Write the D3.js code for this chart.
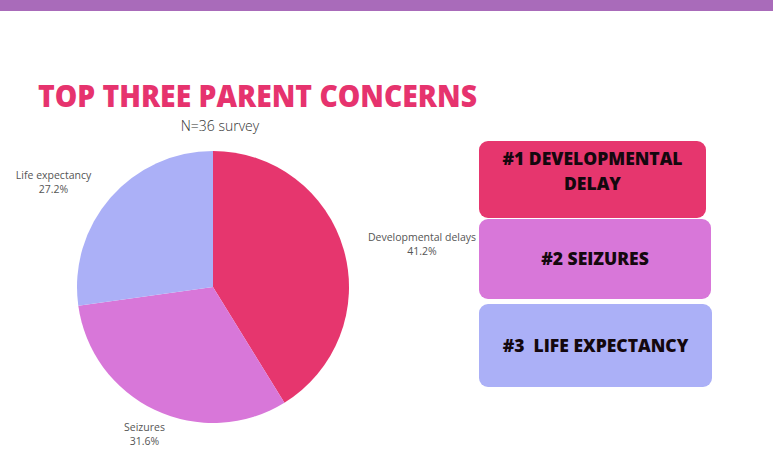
<!DOCTYPE html>
<html>
<head>
<meta charset="utf-8">
<script src="https://cdn.jsdelivr.net/npm/d3@7"></script>
<style>
  body { margin: 0; background: #fff; }
  svg { display: block; font-family: "Open Sans", "Noto Sans", sans-serif; }
</style>
</head>
<body>
<div id="d3-container"></div>
<script>
/**
 * DATA
 * */
const categories = ["Developmental delays", "Seizures", "Life expectancy"];
const shares = [41.2, 31.6, 27.2];
const sliceColors = ["#e6366e", "#d877d9", "#abb0f7"];

const rankLabels = [["#1 DEVELOPMENTAL", "DELAY"], ["#2 SEIZURES"], ["#3\u00a0\u00a0LIFE EXPECTANCY"]];

/**
 * CONSTANTS
 * */
const width = 773,
  height = 471,
  center = { x: 213, y: 287 },
  radius = 136;

const svg = d3
  .select("#d3-container")
  .append("svg")
  .attr("width", width)
  .attr("height", height);

// top band
svg.append("rect")
  .attr("x", 0).attr("y", 0)
  .attr("width", width).attr("height", 11)
  .attr("fill", "#a96bba");

// title + subtitle
svg.append("text")
  .attr("x", 38).attr("y", 107)
  .attr("fill", "#e6336e")
  .attr("font-size", 30)
  .attr("font-weight", 800)
  .attr("textLength", 439)
  .attr("lengthAdjust", "spacingAndGlyphs")
  .text("TOP THREE PARENT CONCERNS");

svg.append("text")
  .attr("x", 220).attr("y", 131)
  .attr("text-anchor", "middle")
  .attr("fill", "#333")
  .attr("font-size", 14)
  .attr("font-weight", 300)
  .text("N=36 survey");

/**
 * PIE
 * */
const pie = d3.pie().sort(null).value(d => d.value);
const arc = d3.arc().innerRadius(0).outerRadius(radius);
const labelArc = d3.arc().innerRadius(radius + 25).outerRadius(radius + 25);

const slices = pie(categories.map((c, i) => ({ name: c, value: shares[i], color: sliceColors[i] })));

const g = svg.append("g").attr("transform", `translate(${center.x},${center.y})`);

g.selectAll("path.slice")
  .data(slices)
  .join("path")
  .attr("class", "slice")
  .attr("d", arc)
  .attr("fill", d => d.data.color);

// labels: block sits outside the slice, lines centred on each other
const labels = g.selectAll("text.label")
  .data(slices)
  .join("text")
  .attr("class", "label")
  .attr("font-size", 10.5)
  .attr("fill", "#555")
  .attr("text-anchor", "middle");

labels.append("tspan")
  .attr("class", "l1")
  .attr("x", 0).attr("y", -2)
  .text(d => d.data.name);

labels.append("tspan")
  .attr("class", "l2")
  .attr("x", 0).attr("y", 12)
  .text(d => d.data.value.toFixed(1) + "%");

labels.attr("transform", function(d) {
  const [px, py] = labelArc.centroid(d);
  const s = Math.sin((d.startAngle + d.endAngle) / 2);
  const w = this.getBBox().width;
  const dx = s > 0.5 ? w / 2 : s < -0.5 ? -w / 2 : 0;
  return `translate(${px + dx},${py})`;
});

/**
 * RANK BOXES
 * */
const boxes = [
  { x0: 479, x1: 706, y0: 141, y1: 218 },
  { x0: 479, x1: 711, y0: 219, y1: 299 },
  { x0: 479, x1: 712, y0: 304, y1: 387 }
];

const box = svg.selectAll("g.box")
  .data(boxes.map((b, i) => ({ ...b, lines: rankLabels[i], color: sliceColors[i] })))
  .join("g")
  .attr("class", "box");

box.append("rect")
  .attr("x", d => d.x0).attr("y", d => d.y0)
  .attr("width", d => d.x1 - d.x0).attr("height", d => d.y1 - d.y0)
  .attr("rx", 9)
  .attr("fill", d => d.color);

box.append("text")
  .attr("text-anchor", "middle")
  .attr("font-size", 17.5)
  .attr("font-weight", 800)
  .attr("fill", "#14080e")
  .each(function(d) {
    const cx = (d.x0 + d.x1) / 2;
    const cy = (d.y0 + d.y1) / 2 + 6;
    d3.select(this).selectAll("tspan")
      .data(d.lines)
      .join("tspan")
      .attr("x", cx)
      .attr("y", (l, j) => d.lines.length > 1 ? 24 + d.y0 + j * 25 : cy)
      .text(l => l);
  });
</script>
</body>
</html>
